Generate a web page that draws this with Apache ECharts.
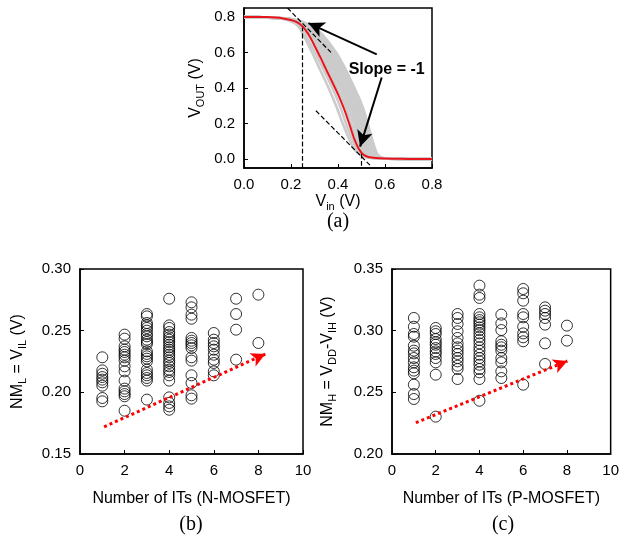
<!DOCTYPE html>
<html><head><meta charset="utf-8">
<script src="https://cdn.jsdelivr.net/npm/echarts@6/dist/echarts.min.js"></script>
<style>html,body{margin:0;padding:0;background:#fff}#c{width:622px;height:538px}</style>
</head><body><div id="c"></div>
<script>
// ---- (a) transfer curves ----
const RED_VIN  = [0, 0.05, 0.1, 0.15, 0.2, 0.225, 0.25, 0.275, 0.3, 0.325, 0.35, 0.375, 0.4, 0.425, 0.45, 0.475, 0.5, 0.525, 0.55, 0.6, 0.7, 0.8];
const RED_VOUT = [0.8, 0.8, 0.799, 0.795, 0.782, 0.77, 0.745, 0.70, 0.638, 0.572, 0.503, 0.435, 0.365, 0.285, 0.19, 0.095, 0.035, 0.014, 0.008, 0.003, 0.001, 0.0];
const GRAY_VOUT = [0.8, 0.79, 0.77, 0.74, 0.7, 0.6, 0.5, 0.4, 0.3, 0.2, 0.1, 0.05, 0.02, 0.005, 0];
const GRAY_VIN_1  = [0.0, 0.16, 0.21, 0.235, 0.252, 0.29, 0.325, 0.36, 0.392, 0.42, 0.452, 0.472, 0.5, 0.55, 0.8];
const GRAY_VIN_2  = [0.0, 0.165, 0.215, 0.243, 0.262, 0.302, 0.34, 0.376, 0.408, 0.434, 0.464, 0.482, 0.506, 0.555, 0.8];
const GRAY_VIN_3  = [0.0, 0.172, 0.224, 0.256, 0.278, 0.322, 0.362, 0.398, 0.432, 0.456, 0.484, 0.5, 0.52, 0.565, 0.8];
const GRAY_VIN_4  = [0.0, 0.175, 0.228, 0.262, 0.286, 0.333, 0.372, 0.41, 0.443, 0.468, 0.494, 0.51, 0.53, 0.57, 0.8];
const GRAY_VIN_5  = [0.0, 0.178, 0.232, 0.268, 0.294, 0.342, 0.383, 0.42, 0.454, 0.478, 0.504, 0.52, 0.538, 0.575, 0.8];
const GRAY_VIN_6  = [0.0, 0.18, 0.236, 0.274, 0.302, 0.352, 0.393, 0.43, 0.464, 0.488, 0.513, 0.528, 0.545, 0.58, 0.8];
const GRAY_VIN_7  = [0.0, 0.182, 0.24, 0.28, 0.31, 0.362, 0.404, 0.441, 0.474, 0.498, 0.522, 0.536, 0.553, 0.585, 0.8];
const GRAY_VIN_8  = [0.0, 0.185, 0.244, 0.286, 0.318, 0.372, 0.414, 0.451, 0.484, 0.508, 0.532, 0.545, 0.56, 0.59, 0.8];
const GRAY_VIN_9  = [0.0, 0.188, 0.248, 0.292, 0.326, 0.382, 0.424, 0.461, 0.494, 0.517, 0.54, 0.552, 0.566, 0.595, 0.8];
const GRAY_VIN_10 = [0.0, 0.19, 0.252, 0.298, 0.334, 0.392, 0.434, 0.47, 0.503, 0.526, 0.548, 0.56, 0.572, 0.6, 0.8];
const GRAY_SETS = [GRAY_VIN_1, GRAY_VIN_2, GRAY_VIN_3, GRAY_VIN_4, GRAY_VIN_5, GRAY_VIN_6, GRAY_VIN_7, GRAY_VIN_8, GRAY_VIN_9, GRAY_VIN_10];
const A_X_TICKS = [0, 0.2, 0.4, 0.6, 0.8];
const A_Y_TICKS = [0, 0.2, 0.4, 0.6, 0.8];

// ---- (b) NM_L vs number of ITs (N-MOSFET) ----
const B_X = [1, 2, 3, 4, 5, 6, 7, 8];
const B_N1 = [0.2284, 0.2178, 0.2151, 0.2124, 0.2103, 0.2081, 0.2054, 0.1954, 0.1927];
const B_N2 = [0.2468, 0.2435, 0.2373, 0.2346, 0.2327, 0.2305, 0.2284, 0.2257, 0.2211, 0.217, 0.2095, 0.203, 0.2008, 0.1986, 0.1968, 0.1851];
const B_N3 = [0.2635, 0.2616, 0.2562, 0.2543, 0.2522, 0.25, 0.2473, 0.2454, 0.2427, 0.2408, 0.2392, 0.2332, 0.2311, 0.2292, 0.2273, 0.2251, 0.2184, 0.2157, 0.2138, 0.2116, 0.2095, 0.1941];
const B_N4 = [0.2759, 0.2543, 0.2522, 0.2489, 0.2468, 0.2446, 0.2427, 0.2408, 0.2386, 0.2365, 0.2346, 0.2327, 0.2305, 0.2284, 0.2257, 0.2238, 0.2211, 0.2184, 0.2165, 0.2138, 0.2095, 0.1959, 0.1914, 0.1886, 0.1859];
const B_N5 = [0.273, 0.2689, 0.263, 0.2597, 0.2441, 0.2419, 0.24, 0.2381, 0.2359, 0.2284, 0.2257, 0.2138, 0.2076, 0.1976, 0.1949];
const B_N6 = [0.2481, 0.2427, 0.24, 0.2373, 0.2346, 0.2305, 0.2265, 0.2238, 0.217, 0.2138];
const B_N7 = [0.2759, 0.2635, 0.2508, 0.2265];
const B_N8 = [0.2792, 0.24];
const B_VALUES = [B_N1, B_N2, B_N3, B_N4, B_N5, B_N6, B_N7, B_N8];
const B_TREND = [[1.08, 0.172], [8.31, 0.231]];

// ---- (c) NM_H vs number of ITs (P-MOSFET) ----
const C_X = [1, 2, 3, 4, 5, 6, 7, 8];
const C_N1 = [0.3103, 0.3032, 0.2973, 0.2951, 0.2878, 0.2838, 0.2816, 0.2778, 0.2743, 0.2703, 0.2676, 0.2654, 0.2562, 0.2486, 0.2446];
const C_N2 = [0.3022, 0.2995, 0.2973, 0.2932, 0.2905, 0.2886, 0.2859, 0.2832, 0.2811, 0.2778, 0.2743, 0.2643, 0.2303];
const C_N3 = [0.3135, 0.3103, 0.3054, 0.2995, 0.2941, 0.2897, 0.2865, 0.2838, 0.2811, 0.2778, 0.2751, 0.2716, 0.2689, 0.2608];
const C_N4 = [0.3365, 0.3292, 0.3265, 0.3135, 0.3108, 0.3086, 0.3068, 0.3049, 0.3027, 0.3005, 0.2978, 0.2951, 0.2924, 0.2897, 0.2865, 0.2838, 0.2805, 0.2778, 0.2751, 0.2724, 0.2689, 0.2662, 0.2608, 0.2432];
const C_N5 = [0.313, 0.3059, 0.3005, 0.2914, 0.2886, 0.2865, 0.2838, 0.2778, 0.2743, 0.267, 0.2616];
const C_N6 = [0.3338, 0.3303, 0.3243, 0.3135, 0.3108, 0.3032, 0.2978, 0.2946, 0.2914, 0.2562];
const C_N7 = [0.3189, 0.3162, 0.3135, 0.3103, 0.3049, 0.2897, 0.273];
const C_N8 = [0.3041, 0.2919];
const C_VALUES = [C_N1, C_N2, C_N3, C_N4, C_N5, C_N6, C_N7, C_N8];
const C_TREND = [[1.09, 0.2254], [8.02, 0.2754]];

const FONT = 'Liberation Sans, Arial, Helvetica, sans-serif';
const SERIF = 'Liberation Serif, Times New Roman, serif';

function pairs(xs, ys) { return xs.map((x, i) => [x, ys[i]]); }
function scatterData(xs, groups) {
  const out = [];
  groups.forEach((g, i) => g.forEach(v => out.push([xs[i], v])));
  return out;
}
const subRich = {
  a: { fontSize: 16, fontFamily: FONT, color: '#000', lineHeight: 20 },
  s: { fontSize: 11, fontFamily: FONT, color: '#000', lineHeight: 10, verticalAlign: 'bottom' }
};
function axisCommon(gridIndex) {
  return {
    gridIndex,
    axisLine: { show: true, onZero: false, lineStyle: { color: '#000', width: 1.5 } },
    axisTick: { show: true, inside: true, length: 4, lineStyle: { color: '#000' } },
    splitLine: { show: false },
    axisLabel: { color: '#000', fontSize: 15, fontFamily: FONT, margin: 9 },
    nameLocation: 'middle',
    nameTextStyle: { rich: subRich, color: '#000', fontSize: 16, fontFamily: FONT }
  };
}

const series = [];
GRAY_SETS.forEach(g => {
  series.push({
    type: 'line', xAxisIndex: 0, yAxisIndex: 0, symbol: 'none', smooth: 0.35,
    data: pairs(g, GRAY_VOUT), lineStyle: { color: '#cbcbcb', width: 2.6 }, silent: true, z: 1
  });
});
series.push({
  type: 'line', xAxisIndex: 0, yAxisIndex: 0, symbol: 'none', smooth: 0.45,
  data: pairs(RED_VIN, RED_VOUT), lineStyle: { color: '#e8141c', width: 2 }, z: 5,
  markLine: {
    silent: true, symbol: 'none', animation: false,
    lineStyle: { color: '#000', type: 'dashed', width: 1.2 },
    label: { show: false },
    data: [
      [{ coord: [0.248, -0.05] }, { coord: [0.248, 0.755] }],
      [{ coord: [0.185, 0.85] }, { coord: [0.37, 0.60] }],
      [{ coord: [0.306, 0.272] }, { coord: [0.536, -0.034] }],
      [{ coord: [0.5, 0.03] }, { coord: [0.5, -0.05] }]
    ]
  }
});
series.push({
  type: 'line', xAxisIndex: 0, yAxisIndex: 0, symbol: 'none', data: [], z: 6,
  markLine: {
    silent: true, symbol: ['none', 'arrow'], symbolSize: [12, 16], animation: false,
    lineStyle: { color: '#000', type: 'solid', width: 2 },
    label: { show: false },
    data: [
      [{ coord: [0.565, 0.589] }, { coord: [0.274, 0.765] }],
      [{ coord: [0.586, 0.459] }, { coord: [0.494, 0.07] }]
    ]
  },
  markPoint: {
    silent: true, animation: false, symbol: 'circle', symbolSize: 0,
    data: [{ coord: [0.607, 0.505], label: { show: true, position: 'inside', formatter: 'Slope = -1',
      color: '#000', fontWeight: 'bold', fontSize: 16, fontFamily: FONT } }]
  }
});
const scatterStyle = { color: 'rgba(0,0,0,0)', borderColor: '#000', borderWidth: 1 };
function trendLine(t) {
  return {
    silent: true, symbol: ['none', 'arrow'], symbolSize: [11, 14], animation: false,
    lineStyle: { color: '#ff0000', type: 'dotted', width: 3 },
    label: { show: false },
    data: [[{ coord: t[0] }, { coord: t[1] }]]
  };
}
series.push({
  type: 'scatter', xAxisIndex: 1, yAxisIndex: 1, symbol: 'circle', symbolSize: 11,
  data: scatterData(B_X, B_VALUES), itemStyle: scatterStyle, markLine: trendLine(B_TREND)
});
series.push({
  type: 'scatter', xAxisIndex: 2, yAxisIndex: 2, symbol: 'circle', symbolSize: 11,
  data: scatterData(C_X, C_VALUES), itemStyle: scatterStyle, markLine: trendLine(C_TREND)
});

const gridStyle = { show: true, borderColor: '#000', borderWidth: 1.5, backgroundColor: 'transparent', containLabel: false };
const option = {
  animation: false,
  backgroundColor: '#fff',
  grid: [
    Object.assign({ left: 244, right: 190, top: 8, bottom: 370 }, gridStyle),
    Object.assign({ left: 80, right: 319, top: 269, bottom: 84 }, gridStyle),
    Object.assign({ left: 392, right: 8, top: 269, bottom: 84 }, gridStyle)
  ],
  xAxis: [
    Object.assign(axisCommon(0), {
      type: 'value', min: 0, max: 0.8, interval: 0.2,
      axisLabel: Object.assign({}, axisCommon(0).axisLabel, { formatter: v => v.toFixed(1), customValues: A_X_TICKS }),
      axisTick: Object.assign({}, axisCommon(0).axisTick, { customValues: A_X_TICKS }),
      name: '{a|V}{s|in}{a| (V)}', nameGap: 24
    }),
    Object.assign(axisCommon(1), {
      type: 'value', min: 0, max: 10, interval: 2,
      name: 'Number of ITs (N-MOSFET)', nameGap: 37
    }),
    Object.assign(axisCommon(2), {
      type: 'value', min: 0, max: 10, interval: 2,
      name: 'Number of ITs (P-MOSFET)', nameGap: 37
    })
  ],
  yAxis: [
    Object.assign(axisCommon(0), {
      type: 'value', min: -0.05, max: 0.85,
      axisLabel: Object.assign({}, axisCommon(0).axisLabel, { formatter: v => v.toFixed(1), customValues: A_Y_TICKS }),
      axisTick: Object.assign({}, axisCommon(0).axisTick, { customValues: A_Y_TICKS }),
      name: '{a|V}{s|OUT}{a| (V)}', nameGap: 38
    }),
    Object.assign(axisCommon(1), {
      type: 'value', min: 0.15, max: 0.30, interval: 0.05,
      axisLabel: Object.assign({}, axisCommon(1).axisLabel, { formatter: v => v.toFixed(2) }),
      name: '{a|NM}{s|L}{a| = V}{s|IL}{a| (V)}', nameGap: 52
    }),
    Object.assign(axisCommon(2), {
      type: 'value', min: 0.20, max: 0.35, interval: 0.05,
      axisLabel: Object.assign({}, axisCommon(2).axisLabel, { formatter: v => v.toFixed(2) }),
      name: '{a|NM}{s|H}{a| = V}{s|DD}{a|-V}{s|IH}{a| (V)}', nameGap: 54
    })
  ],
  graphic: [
    { type: 'text', x: 338, y: 222, style: { text: '(a)', font: '20px ' + SERIF, fill: '#000', textAlign: 'center', textVerticalAlign: 'middle' } },
    { type: 'text', x: 191, y: 525, style: { text: '(b)', font: '20px ' + SERIF, fill: '#000', textAlign: 'center', textVerticalAlign: 'middle' } },
    { type: 'text', x: 503, y: 525, style: { text: '(c)', font: '20px ' + SERIF, fill: '#000', textAlign: 'center', textVerticalAlign: 'middle' } }
  ],
  series
};
const chart = echarts.init(document.getElementById('c'), null, { renderer: 'canvas' });
chart.setOption(option);
</script>
</body></html>
